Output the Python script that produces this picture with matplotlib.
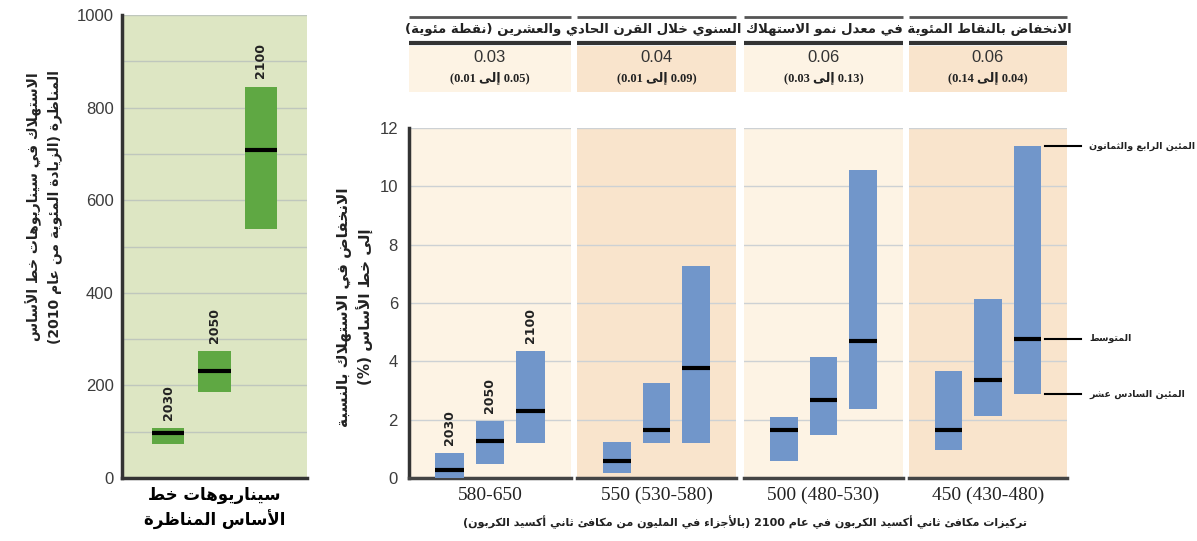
import re
import matplotlib
matplotlib.use("Agg")
import matplotlib.pyplot as plt
from matplotlib.patches import Rectangle
from matplotlib.transforms import blended_transform_factory

plt.rcParams["font.family"] = ["DejaVu Sans"]

# baseline scenarios (% increase in consumption from 2010)
years = ["2030", "2050", "2100"]
base_low = [73, 186, 538]
base_med = [97, 231, 708]
base_high = [108, 274, 845]

# consumption losses relative to baseline (%), one list per concentration category
categories = ["580-650", "550 (530-580)", "500 (480-530)", "450 (430-480)"]
loss_low = [[0.0, 0.48, 1.2], [0.17, 1.2, 1.2], [0.57, 1.46, 2.37], [0.97, 2.11, 2.88]]
loss_med = [[0.26, 1.26, 2.29], [0.57, 1.63, 3.76], [1.63, 2.69, 4.69], [1.63, 3.35, 4.77]]
loss_high = [[0.86, 1.94, 4.34], [1.22, 3.26, 7.26], [2.09, 4.15, 10.57], [3.68, 6.15, 11.37]]

# reduction in annual growth of consumption (percentage points)
growth_med = ["0.03", "0.04", "0.06", "0.06"]
growth_left = ["0.01", "0.01", "0.03", "0.14"]   # number printed on the left of the range
growth_right = ["0.05", "0.09", "0.13", "0.04"]  # number printed on the right

percentile_labels = ["المئين الرابع والثمانون", "المتوسط", "المئين السادس عشر"]

# --- minimal arabic shaping + right-to-left ordering (matplotlib has no bidi)
_DUAL = dict(zip("ئبتثجحخسشصضطظعغفقكلمنهي",
                 [0xFE89, 0xFE8F, 0xFE95, 0xFE99, 0xFE9D, 0xFEA1, 0xFEA5, 0xFEB1,
                  0xFEB5, 0xFEB9, 0xFEBD, 0xFEC1, 0xFEC5, 0xFEC9, 0xFECD, 0xFED1,
                  0xFED5, 0xFED9, 0xFEDD, 0xFEE1, 0xFEE5, 0xFEE9, 0xFEF1]))
_RIGHT = dict(zip("آأؤإاةدذرزوى",
                  [0xFE81, 0xFE83, 0xFE85, 0xFE87, 0xFE8D, 0xFE93, 0xFEA9, 0xFEAB,
                   0xFEAD, 0xFEAF, 0xFEED, 0xFEEF]))
_LAMALEF = dict(zip("آأإا", [0xFEF5, 0xFEF7, 0xFEF9, 0xFEFB]))
_MIRROR = {"(": ")", ")": "("}


def _shape(s):
    toks = []
    i = 0
    while i < len(s):
        if s[i] == "ل" and i + 1 < len(s) and s[i + 1] in _LAMALEF:
            toks.append(("LA", s[i + 1]))
            i += 2
        else:
            toks.append((s[i], None))
            i += 1
    out = []
    for k, (c, a) in enumerate(toks):
        jp = k > 0 and toks[k - 1][0] in _DUAL
        nxt = toks[k + 1][0] if k + 1 < len(toks) else None
        jn = nxt is not None and (nxt in _DUAL or nxt in _RIGHT or nxt == "LA")
        if c == "LA":
            out.append(chr(_LAMALEF[a] + jp))
        elif c in _DUAL:
            form = 3 if (jp and jn) else 1 if jp else 2 if jn else 0
            out.append(chr(_DUAL[c] + form))
        elif c in _RIGHT:
            out.append(chr(_RIGHT[c] + jp))
        else:
            out.append(c)
    return "".join(out)


def _visual(s):
    runs = re.findall(r"[0-9]+(?:[.\-][0-9]+)*|[^0-9]+", s)
    out = []
    for r in reversed(runs):
        if r[0].isdigit():
            out.append(r)
        else:
            out.append("".join(_MIRROR.get(ch, ch) for ch in reversed(r)))
    return "".join(out)


def ar(text):
    return "\n".join(_visual(_shape(line)) for line in text.split("\n"))


W, H = 1197, 541


def px_rect(x0, y0, x1, y1):
    return [x0 / W, 1 - y1 / H, (x1 - x0) / W, (y1 - y0) / H]


DARK = "#333333"
TICK = "#3c3c3c"
CREAM = "#fdf3e4"
PEACH = "#f9e4cc"
BLUE = "#7196ca"
GREEN = "#5fa843"
xs = [1, 2, 3]

fig = plt.figure(figsize=(W / 100, H / 100), dpi=100)

# ---------------- left panel: baseline growth
ax = fig.add_axes(px_rect(122, 15, 307, 478))
ax.set_facecolor("#dde6c3")
for x, lo, md, hi, yr in zip(xs, base_low, base_med, base_high, years):
    ax.bar(x, hi - lo, bottom=lo, width=0.7, color=GREEN, zorder=3)
    ax.hlines(md, x - 0.35, x + 0.35, color="black", lw=3, zorder=4)
    ax.annotate(yr, (x, hi), xytext=(0, 6), textcoords="offset points", rotation=90,
                ha="center", va="bottom", fontsize=9, fontweight="bold", color="#222")
ax.set_xlim(0, 4)
ax.set_ylim(0, 1000)
ax.set_yticks(range(0, 1001, 200))
ax.set_yticks(range(0, 1001, 100), minor=True)
ax.grid(axis="y", which="both", color="#bfc7bd", lw=1, zorder=0)
ax.tick_params(axis="y", which="both", length=0, labelsize=12, labelcolor=TICK, pad=6)
for lab in ax.get_yticklabels():
    lab.set_family("Liberation Sans")
ax.set_xticks([])
for s in ["top", "right"]:
    ax.spines[s].set_visible(False)
for s in ["left", "bottom"]:
    ax.spines[s].set_color(DARK)
    ax.spines[s].set_linewidth(2.5)
ax.set_xlabel(ar("سيناريوهات خط\nالأساس المناظرة"), fontsize=12, fontweight="bold",
              labelpad=6, linespacing=1.35)
fig.text(44 / W, 1 - 207 / H,
         ar("الاستهلاك في سيناريوهات خط الأساس\nالمناظرة (الزيادة المئوية من عام 2010)"),
         rotation=90, ha="center", va="center", fontsize=10, fontweight="bold",
         linespacing=1.45, color="#222")

# ---------------- right panels: consumption losses
panel_x = [(409, 571), (577, 736), (744, 903), (909, 1067)]
panel_bg = [CREAM, PEACH, CREAM, PEACH]
axes = []
for j, ((x0, x1), bg) in enumerate(zip(panel_x, panel_bg)):
    a = fig.add_axes(px_rect(x0, 128, x1, 478))
    a.set_facecolor(bg)
    for x, lo, md, hi, yr in zip(xs, loss_low[j], loss_med[j], loss_high[j], years):
        a.bar(x, hi - lo, bottom=lo, width=0.7, color=BLUE, zorder=3)
        a.hlines(md, x - 0.35, x + 0.35, color="black", lw=3, zorder=4)
        if j == 0:
            a.annotate(yr, (x, hi), xytext=(0, 6), textcoords="offset points", rotation=90,
                       ha="center", va="bottom", fontsize=9, fontweight="bold", color="#222")
    a.set_xlim(0, 4)
    a.set_ylim(0, 12)
    a.set_yticks(range(0, 13, 2))
    a.grid(axis="y", color="#cdd1d4", lw=1, zorder=0)
    a.tick_params(axis="y", length=0, labelsize=12, labelcolor=TICK, pad=8)
    for lab in a.get_yticklabels():
        lab.set_family("Liberation Sans")
    if j > 0:
        a.tick_params(axis="y", labelleft=False)
    a.set_xticks([])
    for s in ["top", "right", "left"]:
        a.spines[s].set_visible(False)
    a.spines["bottom"].set_color("#444")
    a.spines["bottom"].set_linewidth(2.5)
    a.text(0.5, -0.025, categories[j], transform=a.transAxes, ha="center", va="top",
           fontsize=14, family="Liberation Serif", color="#222")
    axes.append(a)

axes[0].spines["left"].set_visible(True)
axes[0].spines["left"].set_color(DARK)
axes[0].spines["left"].set_linewidth(2.5)

fig.text(355 / W, 1 - 307 / H,
         ar("الانخفاض في الاستهلاك بالنسبة\nإلى خط الأساس (%)"),
         rotation=90, ha="center", va="center", fontsize=11, fontweight="bold",
         linespacing=1.35, color="#222")

fig.text(745 / W, 1 - 522 / H,
         ar("تركيزات مكافئ ثاني أكسيد الكربون في عام 2100 (بالأجزاء في المليون من مكافئ ثاني أكسيد الكربون)"),
         ha="center", va="center", fontsize=8, fontweight="bold", color="#222")

# percentile key next to the last bar
last = axes[3]
tr = blended_transform_factory(last.transAxes, last.transData)
key_vals = [loss_high[3][2], loss_med[3][2], loss_low[3][2]]
for v, lab in zip(key_vals, percentile_labels):
    last.plot([0.86, 1.09], [v, v], color="black", lw=1.5, transform=tr, clip_on=False)
    last.text(1.14, v, ar(lab), transform=tr, ha="left", va="center", fontsize=6.8,
              fontweight="bold", color="#222")

# ---------------- header table
ov = fig.add_axes([0, 0, 1, 1], zorder=-1)
ov.set_xlim(0, W)
ov.set_ylim(H, 0)
ov.axis("off")
word_to = ar("إلى")
for j, ((x0, x1), bg) in enumerate(zip(panel_x, panel_bg)):
    ov.add_patch(Rectangle((x0, 46), x1 - x0, 46, facecolor=bg, edgecolor="none"))
    ov.plot([x0, x1], [17, 17], color="#555", lw=2, solid_capstyle="butt")
    ov.plot([x0, x1], [43, 43], color="#333", lw=3, solid_capstyle="butt")
    xc = (x0 + x1) / 2
    ov.text(xc, 58, growth_med[j], ha="center", va="center", fontsize=12,
            family="Liberation Sans", color="#333")
    rng = "(" + growth_left[j] + " " + word_to + " " + growth_right[j] + ")"
    ov.text(xc, 78, rng, ha="center", va="center", fontsize=9, fontweight="bold",
            family=["Liberation Serif", "DejaVu Sans"], color="#222")
ov.text((panel_x[0][0] + panel_x[3][1]) / 2, 30,
        ar("الانخفاض بالنقاط المئوية في معدل نمو الاستهلاك السنوي خلال القرن الحادي والعشرين (نقطة مئوية)"),
        ha="center", va="center", fontsize=9.5, fontweight="bold", color="#222")

fig.savefig("out.png", dpi=100)
